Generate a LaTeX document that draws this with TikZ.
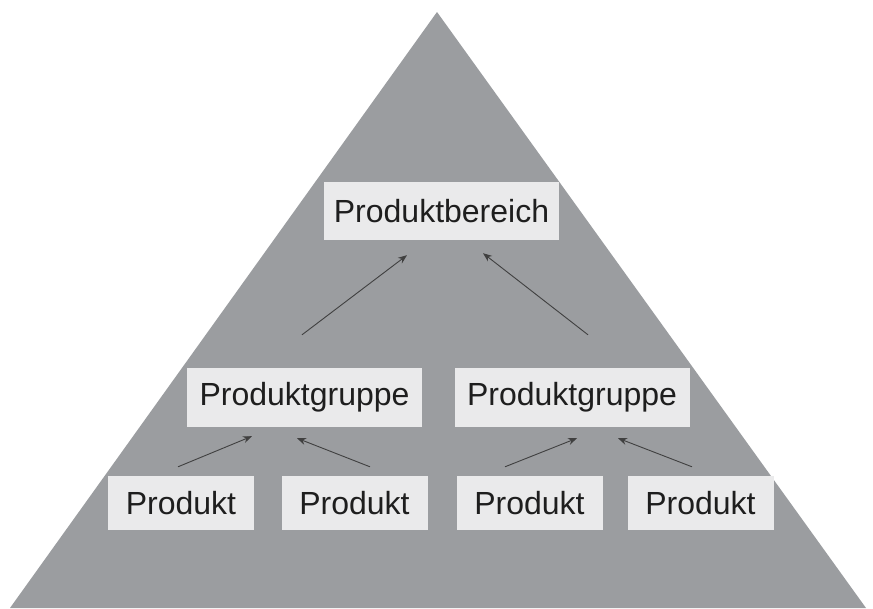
\documentclass[tikz,border=0pt]{standalone}
\usepackage{fontspec}
\setmainfont{Liberation Sans}
\usetikzlibrary{calc,arrows.meta}
\definecolor{pyr}{HTML}{9B9DA0}
\definecolor{boxfill}{HTML}{EAEAEB}
\definecolor{ink}{HTML}{1E1E1E}
\tikzset{
  lvlbox/.style={fill=boxfill, draw=none, inner sep=0pt, text=ink, font=\fontsize{32}{36}\selectfont, minimum height=57pt},
  wide/.style={lvlbox, minimum width=235pt},
  narrow/.style={lvlbox, minimum width=146pt, minimum height=54pt},
  arr/.style={draw=ink!85, line width=0.9pt, -{Stealth[length=9pt,width=7pt]}}
}
\begin{document}
\begin{tikzpicture}[x=1pt,y=-1pt]
\useasboundingbox (0,0) rectangle (873,608);
\fill[white] (0,0) rectangle (873,608);
\fill[pyr] (437,12) -- (866,608) -- (10,608) -- cycle;

\node[wide, minimum height=58pt] (PB) at (441.5,211) {Produktbereich};
\node[wide, minimum height=59pt] (PG1) at (304.5,397.5) {Produktgruppe};
\node[wide, minimum height=59pt] (PG2) at (572,397.5) {Produktgruppe};
\node[narrow] (P1) at (181,503) {Produkt};
\node[narrow] (P2) at (354.5,503) {Produkt};
\node[narrow] (P3) at (529.5,503) {Produkt};
\node[narrow] (P4) at (700.5,503) {Produkt};

\draw[arr] ($(PG1.north)+(-2.5,-33)$) -- ($(PB.south)+(-34.5,15)$);
\draw[arr] ($(PG2.north)+(16,-33)$) -- ($(PB.south)+(41.5,13)$);
\draw[arr] ($(P1.north)+(-3,-9)$) -- ($(PG1.south)+(-52.5,9)$);
\draw[arr] ($(P2.north)+(15.5,-9)$) -- ($(PG1.south)+(-7.5,11)$);
\draw[arr] ($(P3.north)+(-24.5,-9)$) -- ($(PG2.south)+(5,11)$);
\draw[arr] ($(P4.north)+(-8.5,-9)$) -- ($(PG2.south)+(46,11)$);
\end{tikzpicture}
\end{document}
